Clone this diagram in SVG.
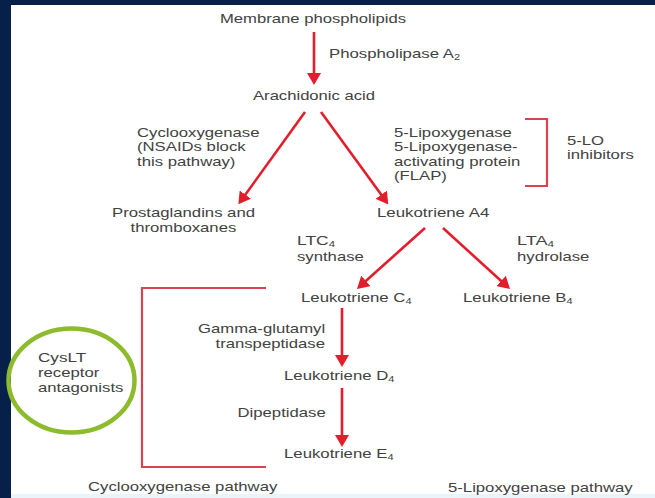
<svg xmlns="http://www.w3.org/2000/svg" width="655" height="498" viewBox="0 0 655 498">
<style>
text{font-family:"Liberation Sans",Arial,sans-serif;font-size:13px;fill:#424242}
.sub{font-size:8.5px}
.arr{stroke:#e31e2c;stroke-width:2.6;fill:none}
.br{stroke:#d8434d;stroke-width:2.2;fill:none}
</style>
<defs>
<marker id="ah" viewBox="0 0 12 14" refX="2" refY="7" markerWidth="12" markerHeight="14" markerUnits="userSpaceOnUse" orient="auto"><path d="M0,0 L12,7 L0,14 z" fill="#e31e2c"/></marker>
</defs>
<rect x="0" y="0" width="655" height="498" fill="#ffffff"/>
<rect x="0" y="494" width="655" height="4" fill="#eaf5fb"/>
<rect x="0" y="0" width="655" height="5" fill="#06204a"/>
<rect x="0" y="0" width="11" height="498" fill="#06204a"/>

<g id="connectors">
<line class="arr" x1="314" y1="32" x2="314" y2="75" marker-end="url(#ah)"/>
<line class="arr" x1="305" y1="112" x2="244.2" y2="196.2" marker-end="url(#ah)"/>
<line class="arr" x1="321" y1="112" x2="382.4" y2="196.3" marker-end="url(#ah)"/>
<line class="arr" x1="425" y1="228" x2="364.4" y2="282.3" marker-end="url(#ah)"/>
<line class="arr" x1="443" y1="228" x2="502.6" y2="282.3" marker-end="url(#ah)"/>
<line class="arr" x1="342" y1="308" x2="342" y2="357" marker-end="url(#ah)"/>
<line class="arr" x1="342" y1="388" x2="342" y2="437" marker-end="url(#ah)"/>
</g>

<g id="bracket-5lo"><path class="br" d="M525,119 H547 V186 H525"/></g>
<g id="bracket-cyslt"><path class="br" d="M266,288 H142 V467 H266"/></g>

<g id="membrane"><text x="220" y="23" textLength="186" lengthAdjust="spacingAndGlyphs">Membrane phospholipids</text></g>
<g id="pla2"><text x="329" y="58" textLength="131" lengthAdjust="spacingAndGlyphs">Phospholipase A<tspan class="sub" dy="2">2</tspan></text></g>
<g id="arachidonic"><text x="253" y="100" textLength="122" lengthAdjust="spacingAndGlyphs">Arachidonic acid</text></g>
<g id="cox">
<text x="137" y="136.5" textLength="122.5" lengthAdjust="spacingAndGlyphs">Cyclooxygenase</text>
<text x="137" y="151" textLength="108.6" lengthAdjust="spacingAndGlyphs">(NSAIDs block</text>
<text x="137" y="165.5" textLength="98.4" lengthAdjust="spacingAndGlyphs">this pathway)</text>
</g>
<g id="prostaglandins">
<text x="112" y="217" textLength="143" lengthAdjust="spacingAndGlyphs">Prostaglandins and</text>
<text x="130.5" y="232" textLength="105.8" lengthAdjust="spacingAndGlyphs">thromboxanes</text>
</g>
<g id="flap">
<text x="394" y="136.5" textLength="117.9" lengthAdjust="spacingAndGlyphs">5-Lipoxygenase</text>
<text x="394" y="151" textLength="123.5" lengthAdjust="spacingAndGlyphs">5-Lipoxygenase-</text>
<text x="394" y="165.5" textLength="126.2" lengthAdjust="spacingAndGlyphs">activating protein</text>
<text x="394" y="180" textLength="52.9" lengthAdjust="spacingAndGlyphs">(FLAP)</text>
</g>
<g id="lo-inhibitors">
<text x="567" y="145" textLength="37.1" lengthAdjust="spacingAndGlyphs">5-LO</text>
<text x="567" y="159" textLength="66.8" lengthAdjust="spacingAndGlyphs">inhibitors</text>
</g>
<g id="lta4"><text x="377" y="217" textLength="112.3" lengthAdjust="spacingAndGlyphs">Leukotriene A4</text></g>
<g id="ltc4-synthase">
<text x="297" y="245" textLength="38" lengthAdjust="spacingAndGlyphs">LTC<tspan class="sub" dy="2">4</tspan></text>
<text x="297" y="261" textLength="66.8" lengthAdjust="spacingAndGlyphs">synthase</text>
</g>
<g id="lta4-hydrolase">
<text x="517" y="245" textLength="37" lengthAdjust="spacingAndGlyphs">LTA<tspan class="sub" dy="2">4</tspan></text>
<text x="517" y="261" textLength="72.4" lengthAdjust="spacingAndGlyphs">hydrolase</text>
</g>
<g id="ltc4"><text x="301" y="302" textLength="110.5" lengthAdjust="spacingAndGlyphs">Leukotriene C<tspan class="sub" dy="2">4</tspan></text></g>
<g id="ltb4"><text x="463" y="302" textLength="109.5" lengthAdjust="spacingAndGlyphs">Leukotriene B<tspan class="sub" dy="2">4</tspan></text></g>
<g id="ggt">
<text x="198" y="333" textLength="127.1" lengthAdjust="spacingAndGlyphs">Gamma-glutamyl</text>
<text x="215.5" y="347.5" textLength="109.5" lengthAdjust="spacingAndGlyphs">transpeptidase</text>
</g>
<g id="ltd4"><text x="284" y="380" textLength="110.4" lengthAdjust="spacingAndGlyphs">Leukotriene D<tspan class="sub" dy="2">4</tspan></text></g>
<g id="dipeptidase"><text x="237.5" y="417" textLength="88.2" lengthAdjust="spacingAndGlyphs">Dipeptidase</text></g>
<g id="lte4"><text x="284" y="458" textLength="109.5" lengthAdjust="spacingAndGlyphs">Leukotriene E<tspan class="sub" dy="2">4</tspan></text></g>
<g id="cyslt">
<ellipse cx="71.5" cy="380.5" rx="63" ry="52" fill="none" stroke="#8cbb2e" stroke-width="4.5"/>
<text x="38" y="362" textLength="48.2" lengthAdjust="spacingAndGlyphs">CysLT</text>
<text x="38" y="377" textLength="61.3" lengthAdjust="spacingAndGlyphs">receptor</text>
<text x="38" y="392" textLength="85.4" lengthAdjust="spacingAndGlyphs">antagonists</text>
</g>
<g id="cox-pathway"><text x="88" y="491" textLength="189.3" lengthAdjust="spacingAndGlyphs">Cyclooxygenase pathway</text></g>
<g id="lox-pathway"><text x="448" y="491.5" textLength="184.7" lengthAdjust="spacingAndGlyphs">5-Lipoxygenase pathway</text></g>
</svg>
